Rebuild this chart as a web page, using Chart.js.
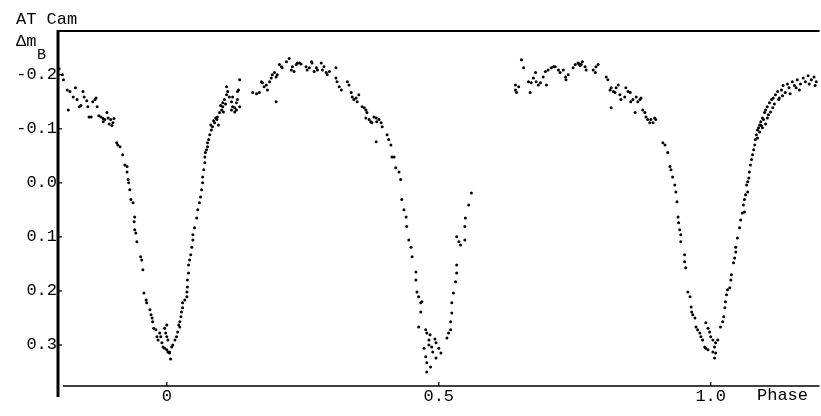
<!DOCTYPE html>
<html>
<head>
<meta charset="utf-8">
<script src="https://cdn.jsdelivr.net/npm/chart.js@4.4.1/dist/chart.umd.min.js"></script>
<style>
html,body{margin:0;padding:0;background:#fff;}
#wrap{width:821px;height:416px;position:relative;}
</style>
</head>
<body>
<div id="wrap"><canvas id="c" width="821" height="416"></canvas></div>
<script>
// Phase values (x) and Δm_B values (y)
const phase = [
-0.198,-0.192,-0.190,-0.183,-0.178,-0.172,-0.168,-0.165,-0.161,-0.158,-0.154,-0.152,-0.147,-0.145,-0.143,-0.139,-0.136,-0.132,-0.130,-0.128,-0.125,-0.121,-0.117,-0.117,-0.114,-0.110,-0.108,-0.106,-0.103,-0.101,-0.099,-0.097,-0.181,
-0.092,-0.090,-0.086,-0.081,-0.077,-0.073,-0.073,-0.071,-0.070,-0.068,-0.066,-0.062,-0.059,-0.060,-0.059,-0.057,-0.055,-0.048,-0.046,-0.044,-0.042,-0.038,-0.037,-0.031,-0.029,-0.027,-0.026,-0.024,-0.020,-0.018,-0.016,-0.013,-0.011,-0.009,-0.007,-0.004,0.000,0.002,0.005,0.007,
0.000,-0.004,-0.002,0.000,0.002,
0.005,0.009,0.011,0.015,0.018,0.020,0.024,0.022,0.024,0.026,0.027,0.029,0.029,0.033,0.037,0.037,0.038,0.038,0.040,0.040,0.042,0.044,0.046,0.048,0.048,0.051,0.055,0.057,0.060,
0.062,0.064,0.066,0.066,0.068,0.070,0.070,0.071,0.073,0.075,0.075,0.077,0.079,0.082,0.081,0.084,0.088,0.092,0.093,0.097,0.101,0.103,0.103,0.106,0.110,0.112,0.110,0.115,0.119,0.121,0.125,0.128,0.130,0.132,0.134,0.125,0.128,0.119,0.121,0.134,0.130,0.095,0.090,0.086,0.099,0.104,0.108,
0.158,0.165,0.170,0.174,0.176,0.179,0.183,0.185,0.189,0.192,0.194,0.198,0.201,0.203,0.201,0.207,0.211,0.212,0.220,0.225,0.229,0.231,0.234,0.238,0.240,0.244,0.247,0.256,0.258,0.262,0.266,0.267,0.271,0.275,0.277,0.284,0.286,0.289,0.293,0.295,0.299,0.311,0.311,0.313,0.317,0.321,0.332,0.335,0.339,0.341,0.344,0.348,0.350,0.353,0.359,0.363,0.366,0.368,0.366,0.372,0.375,0.377,0.381,0.385,0.386,0.390,0.394,0.396,0.405,0.408,0.412,0.385,0.414,
0.418,0.421,0.427,0.430,0.432,0.436,0.440,0.441,0.445,0.449,0.451,0.458,0.458,0.460,0.463,0.467,0.469,0.467,0.463,0.476,0.478,0.482,0.473,0.476,0.478,0.485,0.478,0.487,0.495,0.500,0.504,0.495,0.482,0.489,0.484,0.493,
0.515,0.518,0.522,0.522,0.524,0.524,0.527,0.531,0.533,0.533,0.537,0.540,0.548,0.533,0.548,0.549,0.555,0.560,
0.641,0.641,0.643,0.647,0.652,0.656,0.665,0.668,0.670,0.674,0.678,0.679,0.683,0.687,0.692,0.696,0.698,0.701,0.707,0.711,0.714,0.720,0.723,0.729,0.733,0.734,0.738,0.747,0.751,0.756,0.762,0.769,0.771,0.784,0.788,0.789,0.793,0.808,0.811,0.815,0.817,0.821,0.824,0.826,0.830,0.833,0.835,0.842,0.844,0.848,0.852,0.853,0.857,0.861,0.863,0.866,0.870,0.872,0.875,0.879,0.881,0.884,0.888,0.890,0.894,0.897,0.899,0.817,0.758,0.764,0.760,
0.912,0.916,0.921,0.925,0.927,0.930,0.934,0.936,0.938,0.940,0.941,0.943,0.945,0.945,0.952,0.952,0.954,0.958,0.962,0.964,0.965,0.967,0.971,0.973,0.976,0.980,0.982,0.985,0.989,0.991,0.995,
0.991,0.995,0.998,1.000,1.004,1.007,1.009,1.013,1.004,1.007,1.009,
1.018,1.022,1.024,1.026,1.027,1.029,1.031,1.035,1.037,1.038,1.042,1.044,1.046,1.046,1.049,1.053,1.055,1.058,1.062,1.060,1.062,1.064,1.068,1.066,1.068,
1.070,1.071,1.073,1.075,1.077,1.079,1.081,1.082,1.084,1.086,1.088,1.090,1.092,1.093,1.095,1.097,1.099,1.101,1.104,1.106,1.108,1.112,1.114,1.115,1.119,1.123,1.126,1.130,1.133,1.137,1.141,1.144,1.150,1.154,1.159,1.165,1.170,1.174,1.179,1.185,1.190,1.194,
1.090,1.095,1.101,1.104,1.110,1.117,1.125,1.132,1.146,1.157,1.163,1.181,1.192,1.086
];
const dmag = [
-0.211,-0.200,-0.191,-0.172,-0.169,-0.159,-0.176,-0.154,-0.141,-0.143,-0.169,-0.159,-0.152,-0.141,-0.122,-0.122,-0.150,-0.154,-0.157,-0.141,-0.124,-0.122,-0.119,-0.113,-0.117,-0.130,-0.120,-0.109,-0.117,-0.106,-0.111,-0.119,-0.135,
-0.074,-0.070,-0.067,-0.052,-0.033,-0.030,-0.020,-0.006,0.000,0.013,0.031,0.037,0.063,0.072,0.087,0.093,0.109,0.137,0.143,0.161,0.204,0.217,0.222,0.235,0.244,0.250,0.257,0.269,0.272,0.285,0.291,0.278,0.285,0.296,0.304,0.306,0.309,0.313,0.315,0.326,
0.263,0.269,0.278,0.285,0.291,
0.313,0.304,0.300,0.291,0.285,0.276,0.267,0.263,0.257,0.248,0.239,0.231,0.222,0.217,0.211,0.202,0.193,0.180,0.167,0.152,0.143,0.133,0.119,0.106,0.096,0.083,0.065,0.050,0.037,
0.026,0.013,0.000,-0.011,-0.024,-0.037,-0.048,-0.056,-0.061,-0.067,-0.074,-0.080,-0.089,-0.098,-0.107,-0.104,-0.111,-0.117,-0.122,-0.130,-0.135,-0.141,-0.148,-0.154,-0.163,-0.169,-0.178,-0.159,-0.150,-0.141,-0.131,-0.148,-0.154,-0.172,-0.191,-0.139,-0.135,-0.135,-0.159,-0.141,-0.169,-0.107,-0.120,-0.115,-0.143,-0.131,-0.146,
-0.167,-0.165,-0.167,-0.187,-0.185,-0.178,-0.181,-0.172,-0.187,-0.194,-0.200,-0.204,-0.196,-0.200,-0.150,-0.219,-0.215,-0.213,-0.224,-0.230,-0.209,-0.215,-0.206,-0.219,-0.222,-0.222,-0.220,-0.215,-0.209,-0.213,-0.224,-0.222,-0.206,-0.213,-0.209,-0.222,-0.209,-0.215,-0.204,-0.200,-0.206,-0.213,-0.194,-0.187,-0.178,-0.172,-0.187,-0.181,-0.167,-0.159,-0.154,-0.157,-0.150,-0.163,-0.141,-0.139,-0.135,-0.130,-0.120,-0.117,-0.113,-0.111,-0.122,-0.120,-0.113,-0.117,-0.111,-0.104,-0.089,-0.080,-0.070,-0.076,-0.048,
-0.048,-0.028,-0.020,-0.006,0.031,0.050,0.063,0.081,0.106,0.119,0.137,0.165,0.180,0.202,0.211,0.222,0.220,0.239,0.267,0.272,0.278,0.291,0.306,0.322,0.333,0.341,0.350,0.304,0.296,0.306,0.315,0.324,0.300,0.313,0.281,0.289,
0.287,0.278,0.272,0.257,0.241,0.222,0.204,0.183,0.167,0.152,0.109,0.115,0.106,0.100,0.081,0.065,0.041,0.019,
-0.181,-0.172,-0.167,-0.178,-0.228,-0.213,-0.187,-0.167,-0.185,-0.194,-0.204,-0.187,-0.181,-0.185,-0.196,-0.206,-0.181,-0.209,-0.213,-0.215,-0.215,-0.209,-0.204,-0.209,-0.196,-0.191,-0.200,-0.213,-0.219,-0.222,-0.219,-0.215,-0.209,-0.209,-0.204,-0.215,-0.219,-0.196,-0.191,-0.172,-0.176,-0.169,-0.167,-0.176,-0.181,-0.163,-0.154,-0.159,-0.176,-0.169,-0.167,-0.150,-0.154,-0.130,-0.159,-0.150,-0.154,-0.157,-0.135,-0.130,-0.122,-0.117,-0.111,-0.117,-0.111,-0.120,-0.117,-0.139,-0.220,-0.224,-0.217,
-0.074,-0.070,-0.056,-0.030,-0.024,-0.011,0.004,0.017,0.035,0.063,0.074,0.087,0.096,0.109,0.133,0.146,0.157,0.202,0.211,0.230,0.239,0.244,0.250,0.267,0.272,0.278,0.285,0.291,0.304,0.306,0.309,
0.259,0.269,0.276,0.285,0.291,0.304,0.296,0.291,0.313,0.324,0.315,
0.267,0.257,0.248,0.231,0.220,0.207,0.198,0.194,0.180,0.170,0.148,0.139,0.128,0.119,0.102,0.083,0.069,0.056,0.054,0.041,0.031,0.022,0.017,0.004,-0.002,
-0.009,-0.020,-0.033,-0.043,-0.052,-0.061,-0.070,-0.080,-0.089,-0.098,-0.102,-0.107,-0.113,-0.106,-0.120,-0.117,-0.130,-0.135,-0.141,-0.126,-0.148,-0.154,-0.139,-0.157,-0.163,-0.169,-0.157,-0.172,-0.180,-0.167,-0.183,-0.176,-0.187,-0.180,-0.191,-0.183,-0.194,-0.187,-0.198,-0.191,-0.196,-0.187,
-0.094,-0.102,-0.109,-0.120,-0.131,-0.146,-0.154,-0.161,-0.165,-0.176,-0.172,-0.183,-0.180,-0.083
];
const xTicks = [0, 0.5, 1.0];
const xLabels = ['0', '0.5', '1.0'];
const yTicks = [-0.2, -0.1, 0.0, 0.1, 0.2, 0.3];
const yLabels = ['-0.2', '-0.1', '0.0', '0.1', '0.2', '0.3'];
const title = 'AT Cam';
const yTitle = 'Δm';
const yTitleSub = 'B';
const xTitle = 'Phase';

const FONT = '"Liberation Mono", "DejaVu Sans Mono", monospace';
const points = phase.map((p, i) => ({x: p, y: dmag[i]}));

const deco = {
  id: 'deco',
  afterDraw(chart) {
    const ctx = chart.ctx, a = chart.chartArea;
    const xs = chart.scales.x, ys = chart.scales.y;
    ctx.save();
    ctx.strokeStyle = '#000';
    ctx.lineCap = 'butt';
    ctx.lineWidth = 2;
    ctx.beginPath(); ctx.moveTo(a.left, a.top); ctx.lineTo(a.right, a.top); ctx.stroke();
    ctx.lineWidth = 3;
    ctx.beginPath(); ctx.moveTo(a.left, a.top - 1); ctx.lineTo(a.left, a.bottom + 11); ctx.stroke();
    ctx.lineWidth = 1.5;
    ctx.beginPath(); ctx.moveTo(a.left + 5, a.bottom); ctx.lineTo(a.right, a.bottom); ctx.stroke();
    ctx.lineWidth = 1.2;
    yTicks.forEach(v => {
      const py = ys.getPixelForValue(v);
      ctx.beginPath(); ctx.moveTo(a.left, py); ctx.lineTo(a.left + 4, py); ctx.stroke();
    });
    xTicks.forEach(v => {
      const px = xs.getPixelForValue(v);
      ctx.beginPath(); ctx.moveTo(px, a.bottom); ctx.lineTo(px, a.bottom - 4); ctx.stroke();
    });
    ctx.fillStyle = '#000';
    ctx.textBaseline = 'alphabetic';
    ctx.textAlign = 'left';
    ctx.font = '17px ' + FONT;
    ctx.fillText(title, 16, 24);
    ctx.fillText(yTitle, 16, 46);
    ctx.font = '15px ' + FONT;
    ctx.fillText(yTitleSub, 37, 59);
    ctx.font = '17px ' + FONT;
    ctx.textBaseline = 'top';
    ctx.fillText(xTitle, 757, a.bottom + 1);
    ctx.restore();
  }
};

new Chart(document.getElementById('c'), {
  type: 'scatter',
  data: {
    datasets: [{
      data: points,
      pointRadius: 1.5,
      pointHoverRadius: 1.5,
      pointBorderWidth: 0,
      pointBackgroundColor: '#000',
      pointBorderColor: '#000',
      showLine: false
    }]
  },
  options: {
    responsive: false,
    animation: false,
    devicePixelRatio: 1,
    layout: {padding: {top: 31, left: 0, right: 0, bottom: 0}},
    plugins: {legend: {display: false}, tooltip: {enabled: false}},
    scales: {
      x: {
        type: 'linear', min: -0.2, max: 1.2,
        afterFit(s) { s.height = 30; },
        afterBuildTicks(s) { s.ticks = xTicks.map(v => ({value: v})); },
        grid: {display: false, drawTicks: false},
        border: {display: false},
        ticks: {
          autoSkip: false, maxRotation: 0, padding: 0, color: '#000',
          font: {family: FONT, size: 17},
          callback: (v, i) => xLabels[i]
        }
      },
      y: {
        type: 'linear', reverse: true, min: -0.281, max: 0.376,
        afterFit(s) { s.width = 58; },
        afterBuildTicks(s) { s.ticks = yTicks.map(v => ({value: v})); },
        grid: {display: false, drawTicks: false},
        border: {display: false},
        ticks: {
          autoSkip: false, padding: 1, color: '#000',
          font: {family: FONT, size: 17},
          callback: (v, i) => yLabels[i]
        }
      }
    }
  },
  plugins: [deco]
});
</script>
</body>
</html>
